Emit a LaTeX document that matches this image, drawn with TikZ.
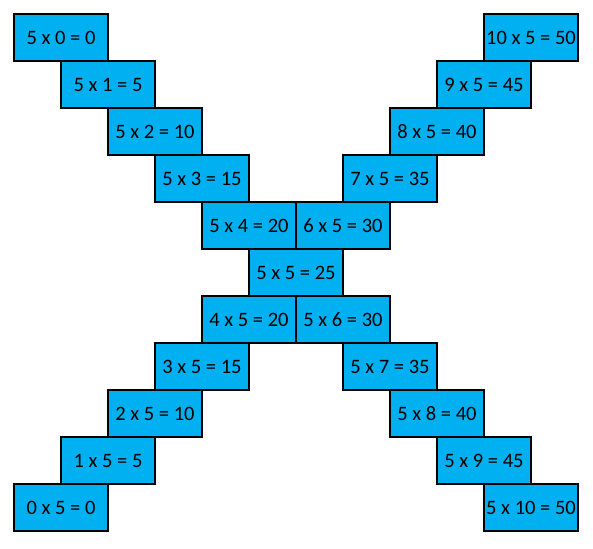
\documentclass[tikz,border=0pt]{standalone}
\usepackage{fontspec}
\setmainfont{Carlito}
\definecolor{boxblue}{HTML}{00B0F0}
\tikzset{cell/.style={draw=black, fill=boxblue, line width=1.5pt, minimum width=94pt, minimum height=47pt, inner sep=0pt, font=\fontsize{20.5}{23}\selectfont}}
\begin{document}
\begin{tikzpicture}[x=1pt,y=-1pt]
\useasboundingbox (0,0) rectangle (593,548);
\foreach \i in {0,...,4} {
  \pgfmathtruncatemacro\p{5*\i}
  \pgfmathtruncatemacro\j{10-\i}
  \pgfmathtruncatemacro\q{5*(10-\i)}
  \node[cell] (L\i) at ({61+47*\i},{37.5+47*\i}) {5 x \i{} = \p};
  \node[cell] (R\i) at ({61+47*\j},{37.5+47*\i}) {\j{} x 5 = \q};
}
\node[cell] (C5) at ({61+47*5},{37.5+47*5}) {5 x 5 = 25};
\foreach \i in {6,...,10} {
  \pgfmathtruncatemacro\p{5*\i}
  \pgfmathtruncatemacro\j{10-\i}
  \pgfmathtruncatemacro\q{5*(10-\i)}
  \node[cell] (L\i) at ({61+47*\j},{37.5+47*\i}) {\j{} x 5 = \q};
  \node[cell] (R\i) at ({61+47*\i},{37.5+47*\i}) {5 x \i{} = \p};
}
\end{tikzpicture}
\end{document}
